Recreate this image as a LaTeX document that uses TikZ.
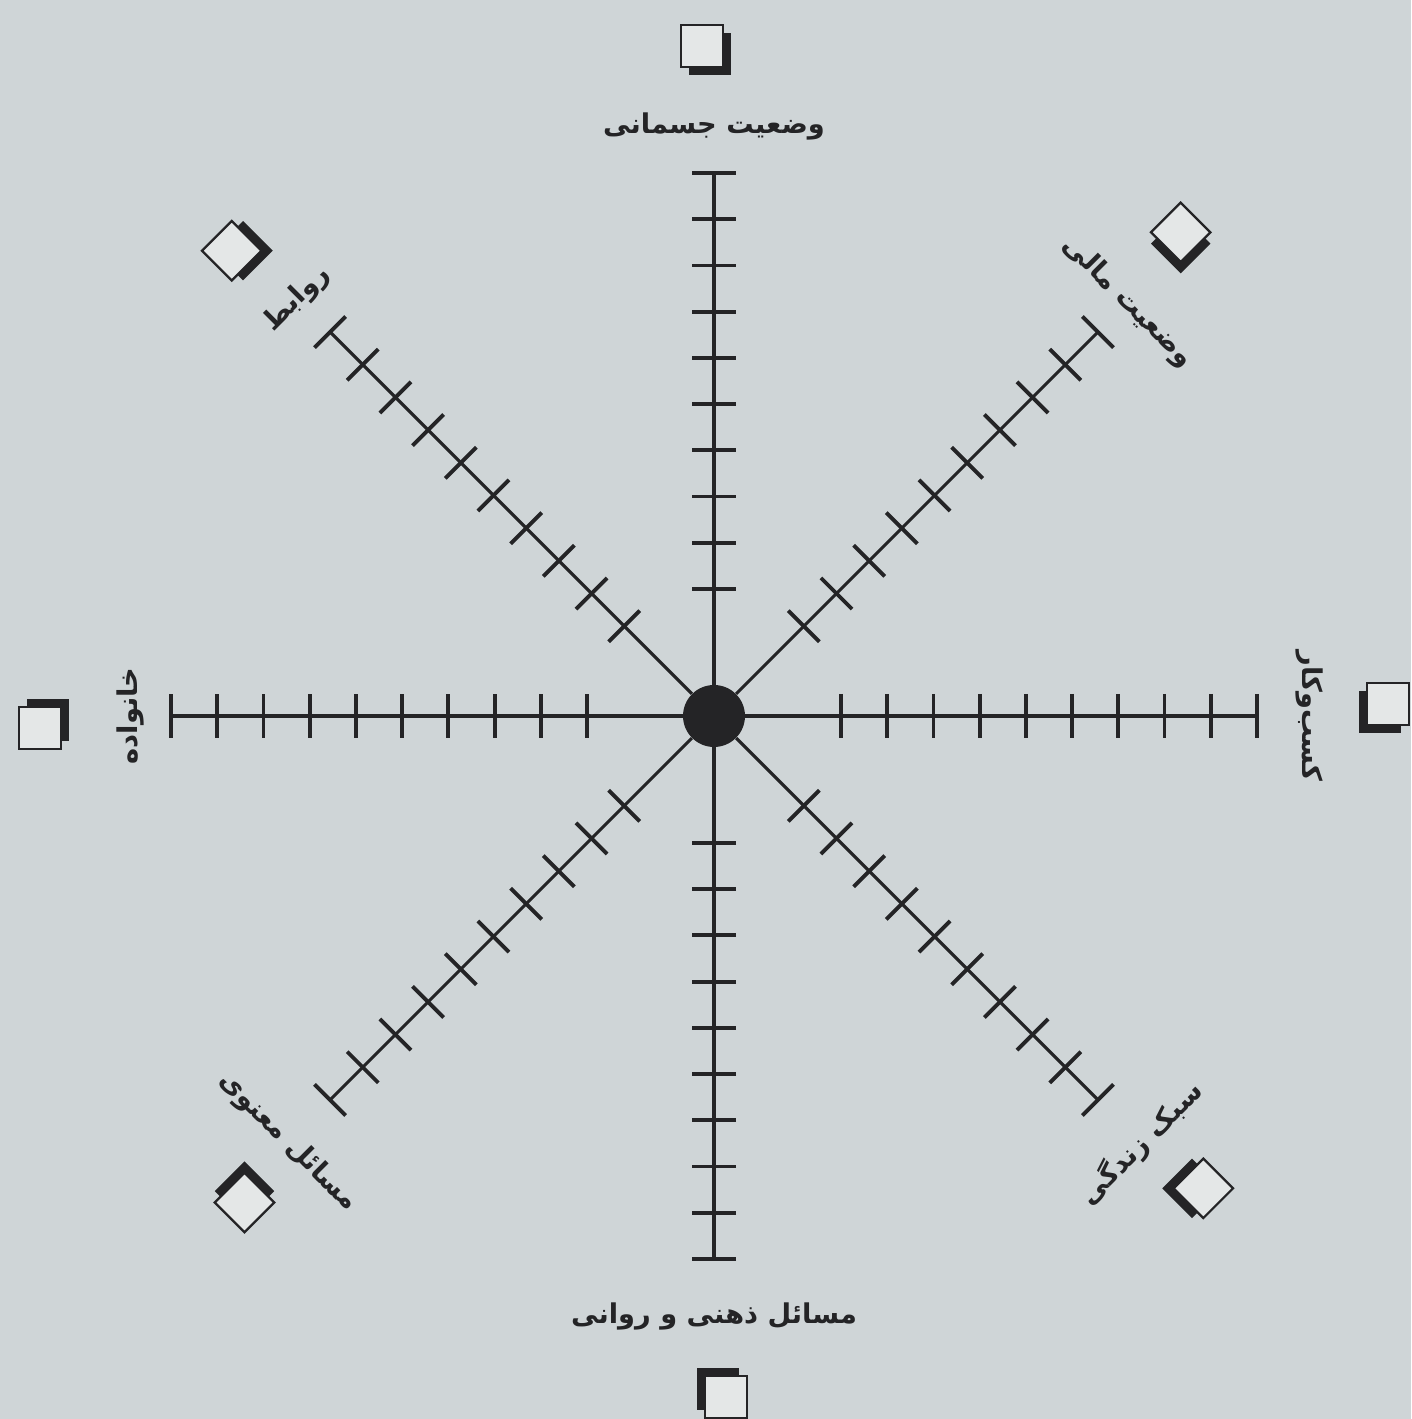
\documentclass[tikz,border=0pt]{standalone}
\usepackage{fontspec}
\TeXXeTstate=1
\newfontfamily\arabicfont[Script=Arabic]{DejaVu Sans}
\definecolor{bg}{RGB}{207,213,215}
\definecolor{ink}{RGB}{36,36,38}
\definecolor{boxfill}{RGB}{228,231,231}
\tikzset{
  spoke/.style={draw=ink, line width=1.8pt},
  tickmark/.style={draw=ink, line width=2.2pt},
  hub/.style={circle, fill=ink, minimum size=1.24cm, inner sep=0pt},
  axislabel/.style={font=\arabicfont\bfseries\fontsize{15.5}{18}\selectfont, text=ink, inner sep=0pt},
  boxfront/.style={draw=ink, fill=boxfill, line width=1.3pt},
  boxshadow/.style={fill=ink}
}
\begin{document}
\begin{tikzpicture}[x=0.02cm, y=0.02cm]
\fill[bg] (0,0) rectangle (1411,1419);
\useasboundingbox (0,0) rectangle (1411,1419);
\begin{scope}[shift={(714,703)}]
\node[hub] (c) at (0,0) {};
\foreach \a/\tr/\ld/\bd/\txt in {
  90/0/590/670/{وضعیت جسمانی},
  45/-45/585/672/{وضعیت مالی},
  0/-90/596/674/{کسب‌وکار},
  315/45/604/680/{سبک زندگی},
  270/0/600/681/{مسائل ذهنی و روانی},
  225/-45/602/676/{مسائل معنوی},
  180/90/584/674/{خانواده},
  135/45/590/670/{روابط}}{
  \begin{scope}[rotate={\a-90}]
    \coordinate (end\a) at (0,543);
    \foreach \k in {0,...,9}{
      \draw[tickmark] (-22,{127+46.22*\k}) -- (22,{127+46.22*\k});
    }
    \fill[boxshadow] ({-12+8-21},{\bd-8-21}) rectangle ++(42,42);
    \draw[boxfront] ({-12-21},{\bd-21}) rectangle ++(42,42);
  \end{scope}
  \draw[spoke] (c) -- (end\a);
  \node[axislabel, rotate=\tr] (lab\a) at (\a:\ld) {\beginR\txt\endR};
}
\end{scope}
\end{tikzpicture}
\end{document}
